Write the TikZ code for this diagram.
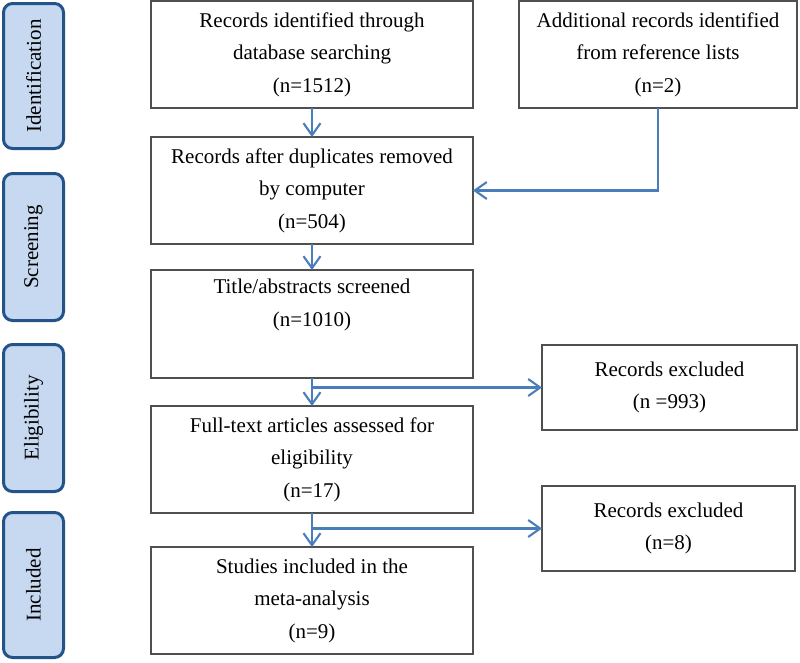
\documentclass[tikz,border=0pt]{standalone}
\usepackage{fontspec}
\setmainfont{Liberation Serif}
\usetikzlibrary{arrows.meta,calc}
\definecolor{sidefill}{HTML}{C6D9F1}
\definecolor{sideline}{HTML}{24538A}
\definecolor{arrowblue}{HTML}{4A7EBB}
\definecolor{boxline}{HTML}{505050}
\begin{document}
\begin{tikzpicture}[x=1pt,y=-1pt,
  every node/.style={font=\fontsize{21}{32.5}\selectfont, inner sep=0pt, outer sep=0pt},
  flowbox/.style={draw=boxline, line width=1.5pt, align=center, fill=white},
  sidebox/.style={draw=sideline, fill=sidefill, line width=3pt, rounded corners=9pt,
     minimum width=60pt},
  sidetext/.style={rotate=90},
  link/.style={draw=arrowblue, line width=2.3pt, -{Straight Barb[length=12pt,width=17pt,line width=2.1pt]}}
]
\useasboundingbox (0,0) rectangle (800,662);

% side phase labels
\node[sidebox, minimum height=145pt] (sid) at (33.5,76) {};
\node[sidetext] (sidt) at (sid.center) {Identification};
\node[sidebox, minimum height=147pt] (ssc) at (33.5,247) {};
\node[sidetext] (ssct) at (ssc.center) {Screening};
\node[sidebox, minimum height=147pt] (sel) at (33.5,418) {};
\node[sidetext] (selt) at (sel.center) {Eligibility};
\node[sidebox, minimum height=145pt] (sin) at (33.5,585) {};
\node[sidetext] (sint) at (sin.center) {Included};

% flow boxes
\node[flowbox, minimum width=322pt, minimum height=107pt] (b1) at (312,54.5)
  {Records identified through\\database searching\\(n=1512)};
\node[flowbox, minimum width=278pt, minimum height=107pt] (b2) at (658,54.5)
  {Additional records identified\\from reference lists\\(n=2)};
\node[flowbox, minimum width=322pt, minimum height=107pt] (b3) at (312,190.5)
  {Records after duplicates removed\\by computer\\(n=504)};
\node[flowbox, minimum width=322pt, minimum height=108pt] (b4) at (312,324)
  {Title/abstracts screened\\(n=1010)\\\strut};
\node[flowbox, minimum width=255pt, minimum height=85pt] (b6) at (669.5,387.5)
  {Records excluded\\(n =993)};
\node[flowbox, minimum width=322pt, minimum height=107pt] (b5) at (312,459.5)
  {Full-text articles assessed for\\eligibility\\(n=17)};
\node[flowbox, minimum width=253pt, minimum height=85pt] (b7) at (668.5,528.5)
  {Records excluded\\(n=8)};
\node[flowbox, minimum width=322pt, minimum height=107pt] (b8) at (312,600.5)
  {Studies included in the\\meta-analysis\\(n=9)};

% connectors
\coordinate (j1) at (b4.south |- b6.west);
\coordinate (j2) at (b5.south |- b7.west);
\draw[link] (b1.south) -- (b3.north);
\draw[link] (b2.south) |- (b3.east);
\draw[link] (b3.south) -- (b4.north);
\draw[link] (b4.south) -- (b5.north);
\draw[link] (j1) -- (b6.west);
\draw[link] (b5.south) -- (b8.north);
\draw[link] (j2) -- (b7.west);
\end{tikzpicture}
\end{document}
